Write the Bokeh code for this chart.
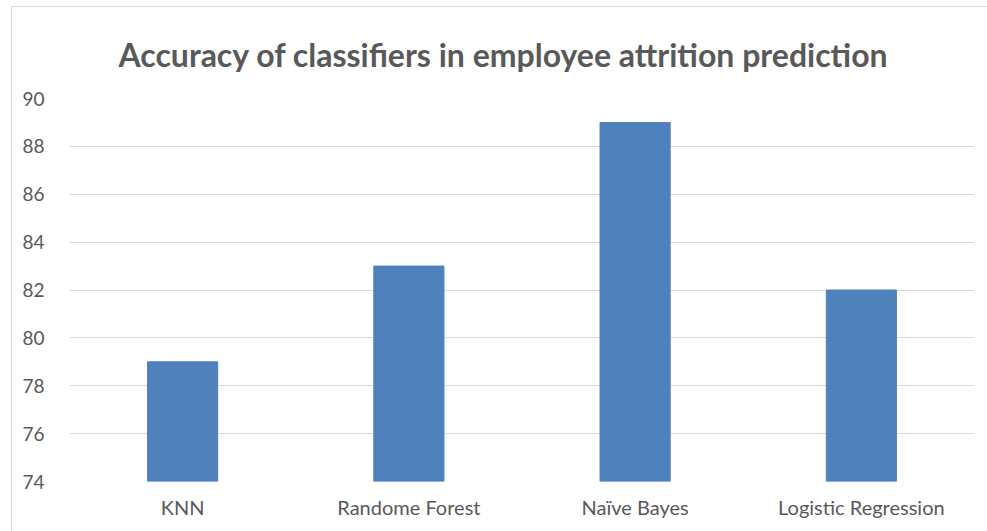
from bokeh.plotting import figure
from bokeh.models import Range1d, FixedTicker
from bokeh.embed import file_html
from bokeh.resources import INLINE

categories = ["KNN", "Randome Forest", "Naïve Bayes", "Logistic Regression"]
accuracy = [79, 83, 89, 82]
y_ticks = [74, 76, 78, 80, 82, 84, 86, 88, 90]

TEXT = "#595959"
FONT = "Lato"

p = figure(x_range=categories, y_range=Range1d(74, 90),
           width=976, height=525, output_backend="svg", toolbar_location=None,
           min_border_left=57, min_border_right=14, min_border_top=91, min_border_bottom=51,
           title="Accuracy of classifiers in employee attrition prediction")
p.margin = (6, 0, 0, 11)
p.styles = {"border-top": "1px solid #d9d9d9", "border-left": "1px solid #d9d9d9",
            "box-sizing": "border-box"}

p.vbar(x=categories, top=accuracy, bottom=74, width=0.31,
       fill_color="#4F81BD", line_color="#4F81BD")

p.title.text_font = FONT
p.title.text_font_size = "32px"
p.title.text_font_style = "bold"
p.title.text_color = TEXT
p.title.align = "left"
p.title.offset = 49
p.title.standoff = 50

p.outline_line_color = None
p.background_fill_color = "white"
p.border_fill_color = "white"

p.xgrid.grid_line_color = None
p.ygrid.grid_line_color = "#d9d9d9"
p.ygrid.grid_line_width = 1

p.yaxis.ticker = FixedTicker(ticks=y_ticks)
for ax in (p.xaxis[0], p.yaxis[0]):
    ax.axis_line_color = None
    ax.major_tick_line_color = None
    ax.minor_tick_line_color = None
    ax.major_label_text_font = FONT
    ax.major_label_text_color = TEXT
p.yaxis.major_label_text_font_size = "19px"
p.xaxis.major_label_text_font_size = "20px"
p.yaxis.major_label_standoff = 19
p.xaxis.major_label_standoff = 7

open("out.html", "w").write(file_html(p, INLINE))
